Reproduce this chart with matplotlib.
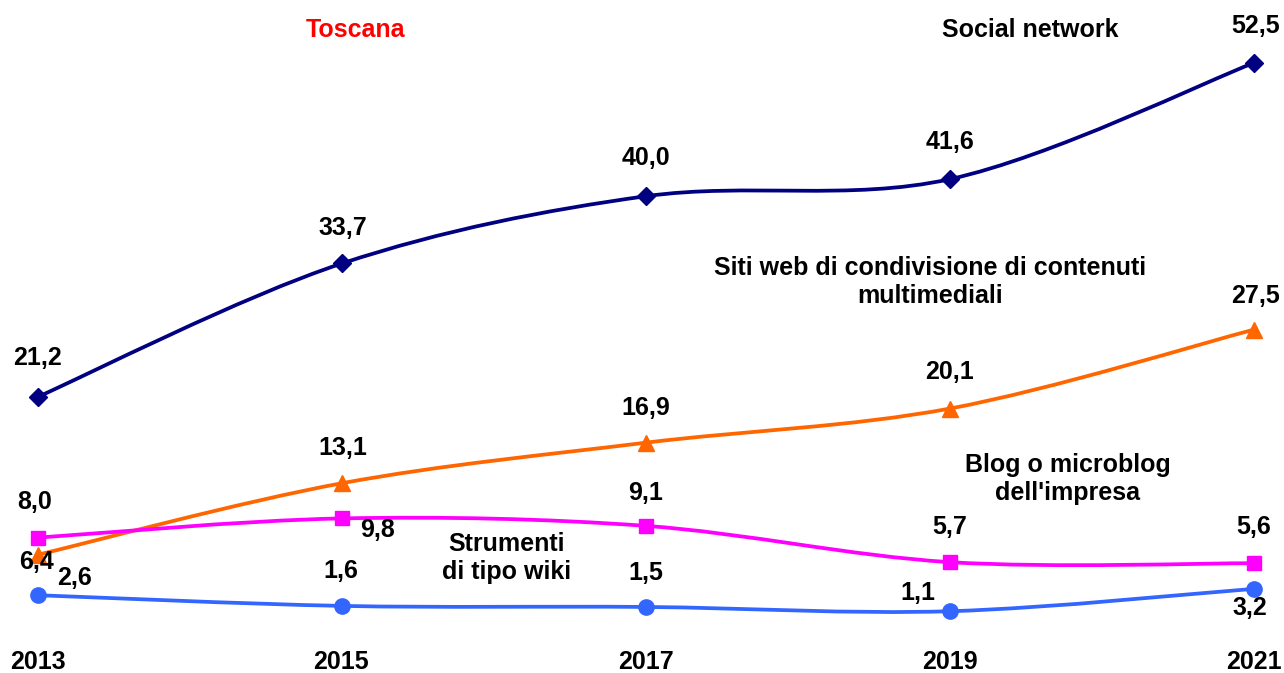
import matplotlib.pyplot as plt
from matplotlib.path import Path
from matplotlib.patches import PathPatch

plt.rcParams['font.family'] = ['Liberation Sans', 'DejaVu Sans']

years = [2013, 2015, 2017, 2019, 2021]
social = [21.2, 33.7, 40.0, 41.6, 52.5]
siti = [6.4, 13.1, 16.9, 20.1, 27.5]
blog = [8.0, 9.8, 9.1, 5.7, 5.6]
wiki = [2.6, 1.6, 1.5, 1.1, 3.2]


def smooth_path(xs, ys):
    # bezier smoothing like the office "smoothed line" option
    pts = list(zip(xs, ys))
    verts = [pts[0]]
    codes = [Path.MOVETO]
    n = len(pts)
    for i in range(n - 1):
        p0 = pts[max(i - 1, 0)]
        p1 = pts[i]
        p2 = pts[i + 1]
        p3 = pts[min(i + 2, n - 1)]
        c1 = (p1[0] + (p2[0] - p0[0]) / 6, p1[1] + (p2[1] - p0[1]) / 6)
        c2 = (p2[0] - (p3[0] - p1[0]) / 6, p2[1] - (p3[1] - p1[1]) / 6)
        verts += [c1, c2, p2]
        codes += [Path.CURVE4] * 3
    return Path(verts, codes)


fig = plt.figure(figsize=(12.84, 6.73), dpi=100)
ax = fig.add_axes([0, 0, 1, 1])
ax.set_xlim(2012.75, 2021.197)
ax.set_ylim(-4.69, 58.39)
ax.axis('off')

series = [
    (social, '#000080', 'D', 9),
    (siti, '#FF6600', '^', 11),
    (blog, '#FF00FF', 's', 10),
    (wiki, '#3366FF', 'o', 11),
]
for vals, col, mk, ms in series:
    ax.add_patch(PathPatch(smooth_path(years, vals), fill=False, edgecolor=col, lw=2.7))
    ax.plot(years, vals, ls='none', marker=mk, color=col, markersize=ms)

fs = 18
bold = dict(fontsize=fs, fontweight='bold', ha='center', va='center')


def lab(x_px, y_px, s, **kw):
    ax.text(x_px / 1284, 1 - y_px / 673, s, transform=ax.transAxes, **{**bold, **kw})


def fmt(v):
    return f"{v:.1f}".replace('.', ',')


# value labels (pixel positions of the label centres)
social_pos = [(38, 358), (343, 228), (646, 158), (950, 142), (1256, 26)]
siti_pos = [(37, 562), (343, 448), (646, 408), (950, 372), (1255, 296)]
blog_pos = [(35, 502), (378, 530), (646, 493), (950, 527), (1254, 527)]
wiki_pos = [(75, 578), (341, 571), (646, 573), (918, 593), (1250, 608)]
for vals, pos in [(social, social_pos), (siti, siti_pos), (blog, blog_pos), (wiki, wiki_pos)]:
    for v, (px, py) in zip(vals, pos):
        lab(px, py, fmt(v))

lab(355, 30, 'Toscana', color='red')
lab(1030, 30, 'Social network')
lab(930, 282, 'Siti web di condivisione di contenuti\nmultimediali', linespacing=1.2)
lab(1068, 479, "Blog o microblog\ndell'impresa", linespacing=1.2)
lab(507, 558, 'Strumenti\ndi tipo wiki', linespacing=1.2)

year_px = [38, 341, 646, 950, 1254]
for yr, px in zip(years, year_px):
    lab(px, 662, str(yr))

fig.savefig('out.png', dpi=100)
